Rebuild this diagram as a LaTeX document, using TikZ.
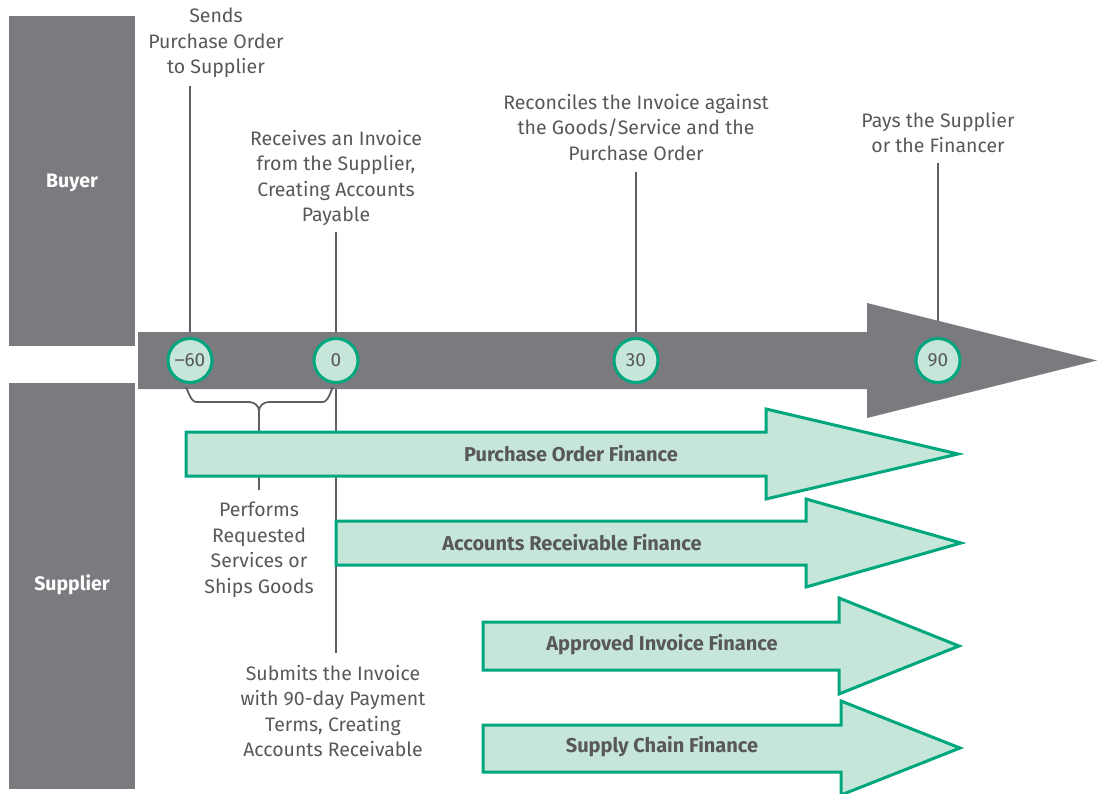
\documentclass[tikz,border=0pt]{standalone}
\usepackage{fontspec}
\setmainfont{Fira Sans}
\definecolor{bargrey}{HTML}{7B7A7F}
\definecolor{grn}{HTML}{00A67E}
\definecolor{lgrn}{HTML}{C5E6D9}
\definecolor{txt}{HTML}{58585A}
\definecolor{lin}{HTML}{5F5F61}
\begin{document}
\begin{tikzpicture}[x=1pt,y=-1pt,
 lbl/.style={font=\fontsize{19.5}{25.5}\selectfont, text=txt, align=center, inner sep=0pt, anchor=north},
 tick/.style={circle, draw=grn, fill=lgrn, line width=3pt, minimum size=44pt, inner sep=0pt, font=\fontsize{19}{20}\selectfont, text=txt},
 conn/.style={draw=lin, line width=1.8pt},
 farrow/.style={draw=grn, fill=lgrn, line width=3pt, line join=miter},
 flbl/.style={font=\bfseries\fontsize{20}{22}\selectfont, text=txt, inner sep=0pt},
 role/.style={fill=bargrey, inner sep=0pt, minimum width=126pt, font=\bfseries\fontsize{19.5}{21}\selectfont, text=white}]
\useasboundingbox (0,0) rectangle (1097,794);

% role boxes
\node[role, minimum height=330pt] (buyer) at (72,181) {};
\node[role, minimum height=406pt] (supplier) at (72,586) {};
\node[role, fill=none, minimum height=0pt] (buyertxt) at (72,183) {Buyer};
\node[role, fill=none, minimum height=0pt] (suppliertxt) at (72,585) {Supplier};

% connector end points
\coordinate (a60) at (190,86);
\coordinate (a0) at (336,232);
\coordinate (b0) at (336,653);
\coordinate (a30) at (636,172);
\coordinate (a90) at (938,163);
\coordinate (brtip) at (259,411);
\coordinate (brend) at (259,490);

% circle positions
\coordinate (p60) at (190,360.5);
\coordinate (p0) at (336,360.5);
\coordinate (p30) at (636,360.5);
\coordinate (p90) at (938,360.5);

% vertical connectors (behind timeline)
\draw[conn] (a60) -- (p60);
\draw[conn] (a0) -- (b0);
\draw[conn] (a30) -- (p30);
\draw[conn] (a90) -- (p90);

% timeline arrow
\fill[bargrey] (138,332) -- (867,332) -- (867,303) -- (1097,360.5) -- (867,418) -- (867,389) -- (138,389) -- cycle;

% circles
\node[tick] (c60) at (p60) {–60};
\node[tick] (c0) at (p0) {0};
\node[tick] (c30) at (p30) {30};
\node[tick] (c90) at (p90) {90};

% brace
\draw[conn, line join=round] (186,389) to[out=90,in=180] (196,402) -- (249,402) to[out=0,in=90] (brtip) to[out=90,in=180] (269,402) -- (323,402) to[out=0,in=90] (333,389);
\draw[conn] (brtip) -- (brend);

% finance arrows
\draw[farrow] (186,432) -- (766,432) -- (766,409) -- (958,454) -- (766,499) -- (766,476) -- (186,476) -- cycle;
\draw[farrow] (336,521) -- (806,521) -- (806,499) -- (961,543) -- (806,587) -- (806,565) -- (336,565) -- cycle;
\draw[farrow] (483,622) -- (839,622) -- (839,598) -- (959,646) -- (839,694) -- (839,670) -- (483,670) -- cycle;
\draw[farrow] (483,725) -- (841,725) -- (841,701) -- (960,748) -- (841,795) -- (841,772) -- (483,772) -- cycle;

\node[flbl] (po) at (571,454) {Purchase Order Finance};
\node[flbl] (ar) at (572,543) {Accounts Receivable Finance};
\node[flbl] (ai) at (662,645) {Approved Invoice Finance};
\node[flbl] (sc) at (662,747) {Supply Chain Finance};

% labels
\node[lbl] (t60) at (216,8) {Sends\\Purchase Order\\to Supplier};
\node[lbl] (t0) at (336,130) {Receives an Invoice\\from the Supplier,\\Creating Accounts\\Payable};
\node[lbl] (t30) at (636,94) {Reconciles the Invoice against\\the Goods/Service and the\\Purchase Order};
\node[lbl] (t90) at (938,112) {Pays the Supplier\\or the Financer};
\node[lbl] (tperf) at (259,502) {Performs\\Requested\\Services or\\Ships Goods};
\node[lbl] (tsub) at (333,665) {Submits the Invoice\\with 90-day Payment\\Terms, Creating\\Accounts Receivable};
\end{tikzpicture}
\end{document}
